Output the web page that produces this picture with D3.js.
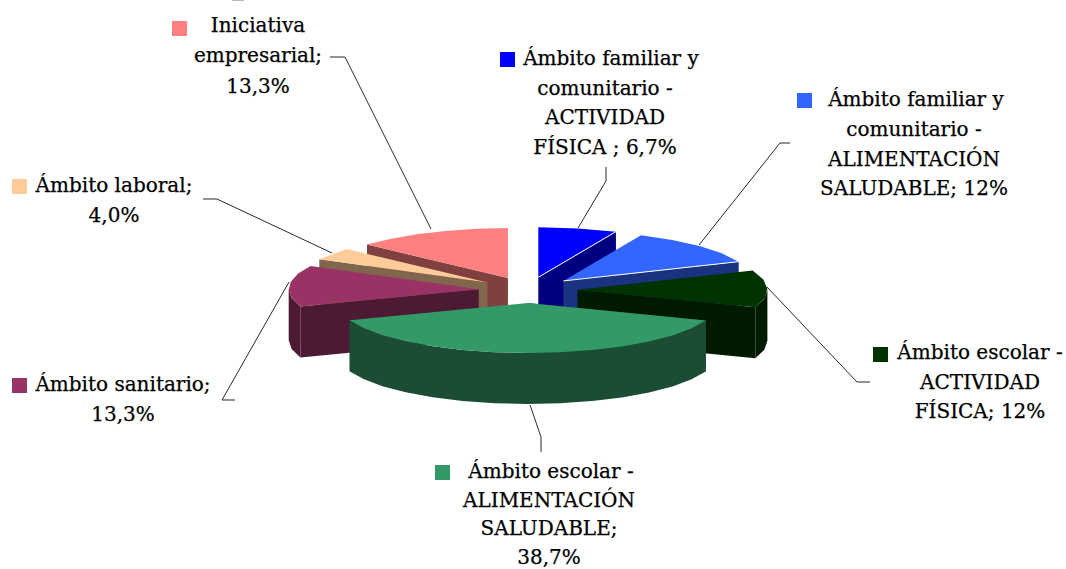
<!DOCTYPE html>
<html>
<head>
<meta charset="utf-8">
<script src="https://cdn.jsdelivr.net/npm/d3@7"></script>
<style>
    html, body { margin: 0; padding: 0; background: #fff; }
    svg { display: block; }
    text { font-family: "DejaVu Serif", serif; font-size: 20px; fill: #000; stroke: #000; stroke-width: 0.25px; text-anchor: middle; }
</style>
</head>
<body>
<svg id="drawing_region"></svg>
<script>
// slices, clockwise from 12 o'clock
const categories = [
    "Ámbito familiar y comunitario - ACTIVIDAD FÍSICA",
    "Ámbito familiar y comunitario - ALIMENTACIÓN SALUDABLE",
    "Ámbito escolar - ACTIVIDAD FÍSICA",
    "Ámbito escolar - ALIMENTACIÓN SALUDABLE",
    "Ámbito sanitario",
    "Ámbito laboral",
    "Iniciativa empresarial"
];
const values = [6.7, 12, 12, 38.7, 13.3, 4.0, 13.3];
const top_colors = ["#0000ff", "#3366ff", "#003300", "#339966", "#993366", "#ffcc99", "#ff8080"];
const wall_colors = ["#000080", "#1a3380", "#001a00", "#1a4d33", "#4d1a33", "#80664d", "#804040"];
const label_lines = [
    ["Ámbito familiar y", "comunitario -", "ACTIVIDAD", "FÍSICA ; 6,7%"],
    ["Ámbito familiar y", "comunitario -", "ALIMENTACIÓN", "SALUDABLE; 12%"],
    ["Ámbito escolar -", "ACTIVIDAD", "FÍSICA; 12%"],
    ["Ámbito escolar -", "ALIMENTACIÓN", "SALUDABLE;", "38,7%"],
    ["Ámbito sanitario;", "13,3%"],
    ["Ámbito laboral;", "4,0%"],
    ["Iniciativa", "empresarial;", "13,3%"]
];

// label layout: x centre per line, baseline of first line, line gap, key position, leader
const label_layout = [
    { xs: [611, 605, 605, 605], y: 65, dy: 29.5, key: [500, 52], leader: [[606, 167], [606, 181], [578, 228]] },
    { xs: [916, 914, 914, 914], y: 106, dy: 29.8, key: [797, 93], leader: [[790, 143], [780, 143], [699, 245]] },
    { xs: [980, 980, 980], y: 359, dy: 29.5, key: [873, 347], leader: [[870, 382], [857, 382], [767, 287]] },
    { xs: [551, 549, 549, 549], y: 478, dy: 28.5, key: [435, 465], leader: [[541, 452], [541, 437], [530, 405]] },
    { xs: [123, 123], y: 391, dy: 30, key: [12, 378], leader: [[235, 400], [222, 400], [289, 282]] },
    { xs: [114, 114], y: 192, dy: 30, key: [12, 179], leader: [[203, 199], [217, 199], [332, 253]] },
    { xs: [258, 258, 258], y: 32, dy: 30.3, key: [172, 21], leader: [[330, 57], [345, 57], [431, 229]] }
];

const config = {
    width: 1066,
    height: 569,
    cx: 528,
    cy: 290,
    rx: 190,
    ry: 50,
    depth: 51,
    explode: 0.26,
    step: Math.PI / 18,
    key_size: 15
};

const svg = d3.select("#drawing_region")
    .attr("width", config.width)
    .attr("height", config.height);

const pie = d3.pie().sort(null).value(d => d);
const arcs = pie(values);

// unit disc -> screen
const xscale = d3.scaleLinear().domain([-1, 1]).range([config.cx - config.rx, config.cx + config.rx]);
const yscale = d3.scaleLinear().domain([-1, 1]).range([config.cy + config.ry, config.cy - config.ry]);

const line = d3.line();

function rim(a, b) {
    // coarse steps on purpose, the original rim is a rough polygon
    const n = Math.max(1, Math.round((b - a) / config.step));
    return d3.range(n + 1).map(i => a + (b - a) * i / n);
}

function slice_shapes(d) {
    const mid = (d.startAngle + d.endAngle) / 2;
    const ox = config.explode * Math.sin(mid);
    const oy = config.explode * Math.cos(mid);
    const pt = (a, r, drop) => [
        xscale(ox + r * Math.sin(a)),
        yscale(oy + r * Math.cos(a)) + drop
    ];
    const apex = pt(0, 0, 0);
    const apex_low = pt(0, 0, config.depth);

    const top = [apex].concat(rim(d.startAngle, d.endAngle).map(a => pt(a, 1, 0)));

    // radial wall facing the viewer: end edge on the right half, start edge on the left
    const edge = mid < Math.PI ? d.endAngle : d.startAngle;
    const wall = [apex, pt(edge, 1, 0), pt(edge, 1, config.depth), apex_low];

    // outer wall, only the part turned to the front
    const a0 = Math.max(d.startAngle, Math.PI / 2);
    const a1 = Math.min(d.endAngle, Math.PI * 1.5);
    let outer = null;
    if (a1 > a0) {
        const angles = rim(a0, a1);
        outer = angles.map(a => pt(a, 1, 0))
            .concat(angles.slice().reverse().map(a => pt(a, 1, config.depth)));
    }
    return { top, wall, outer, edge_line: [apex, pt(edge, 1, 0)] };
}

// painter's order, back slices first and the big front slice last
const draw_order = [6, 5, 4, 0, 1, 2, 3];
const chart = svg.append("g");

draw_order.forEach(i => {
    const shapes = slice_shapes(arcs[i]);
    const g = chart.append("g");

    g.append("path")
        .attr("d", line(shapes.wall) + "Z")
        .attr("fill", wall_colors[i]);

    if (shapes.outer) {
        g.append("path")
            .attr("d", line(shapes.outer) + "Z")
            .attr("fill", wall_colors[i]);
    }

    g.append("path")
        .attr("d", line(shapes.top) + "Z")
        .attr("fill", top_colors[i]);

    // thin light edge between top and wall on the two blue slices
    if (i < 2) {
        g.append("path")
            .attr("d", line(shapes.edge_line))
            .attr("fill", "none")
            .attr("stroke", "#fff")
            .attr("stroke-width", 1);
    }
});

// leaders
svg.append("g").selectAll("path")
    .data(label_layout)
    .enter()
    .append("path")
    .attr("d", d => line(d.leader))
    .attr("fill", "none")
    .attr("stroke", "#111")
    .attr("stroke-width", 0.9);

// labels and legend keys
label_lines.forEach((lines, i) => {
    const layout = label_layout[i];

    svg.append("rect")
        .attr("x", layout.key[0])
        .attr("y", layout.key[1])
        .attr("width", config.key_size)
        .attr("height", config.key_size)
        .attr("fill", top_colors[i]);

    svg.append("g").selectAll("text")
        .data(lines)
        .enter()
        .append("text")
        .attr("x", (d, j) => layout.xs[j])
        .attr("y", (d, j) => layout.y + j * layout.dy)
        .text(d => d);
});

// stub of a clipped mark on the top edge of the original
svg.append("rect")
    .attr("x", 232)
    .attr("y", 0)
    .attr("width", 12)
    .attr("height", 1)
    .attr("fill", "#bbb");
</script>
</body>
</html>
